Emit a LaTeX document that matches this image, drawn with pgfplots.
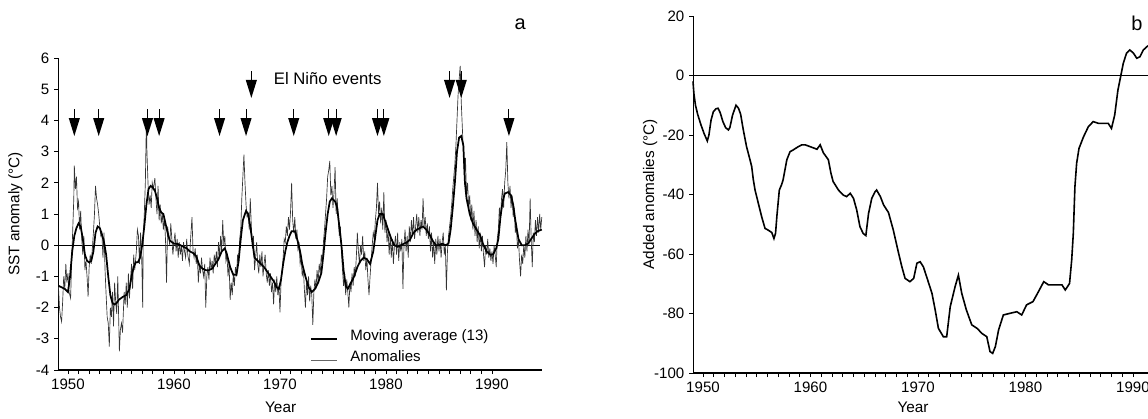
\documentclass[border=0pt]{standalone}
\usepackage{pgfplots}
\pgfplotsset{compat=1.18}
\usepackage{fontspec}
\setmainfont{Liberation Sans}

\pgfdeclareplotmark{elnino}{%
  \pgfpathmoveto{\pgfpoint{0pt}{0pt}}%
  \pgfpathlineto{\pgfpoint{-4.2pt}{13.5pt}}%
  \pgfpathlineto{\pgfpoint{4.2pt}{13.5pt}}%
  \pgfpathclose
  \pgfusepath{fill}%
  \pgfpathmoveto{\pgfpoint{0pt}{12pt}}%
  \pgfpathlineto{\pgfpoint{0pt}{20.5pt}}%
  \pgfusepath{stroke}%
}

\pgfplotsset{
  myaxis/.style={
    scale only axis, axis lines=left, axis line style={-},
    enlargelimits=false,
    y axis line style={line width=0.6pt},
    x axis line style={line width=1.1pt},
    tick align=outside, tick style={black, line width=0.5pt},
    major tick length=3pt, minor tick length=3pt,
    xtick={1950,1960,1970,1980,1990}, minor x tick num=9,
    /pgf/number format/1000 sep={},
    /pgf/number format/assume math mode=true,
    tick label style={font=\fontsize{11.3}{13}\selectfont},
    label style={font=\fontsize{11.5}{13}\selectfont},
    clip=false,
  }
}

\begin{document}
\begin{tikzpicture}
% ---------------- panel a ----------------
\begin{axis}[myaxis,
  at={(43.5pt,36pt)}, anchor=south west,
  width=363pt, height=234pt,
  xmin=1949.06, xmax=1994.72, ymin=-4, ymax=6,
  ytick={-4,-3,...,6},
  xlabel={Year},
  xlabel style={at={(axis description cs:0.46,-0.12)}, anchor=center},
  ylabel={SST anomaly (°C)},
  ylabel style={at={(axis description cs:-0.088,0.5)}, anchor=center},
  legend style={at={(axis description cs:0.52,0.14)}, anchor=north west,
    draw=none, fill=none, font=\fontsize{11.3}{13}\selectfont,
    row sep=2.5pt, inner sep=0pt, cells={anchor=west}},
  legend image code/.code={\draw[#1] (0pt,-2.5pt) -- (20pt,-2.5pt); \path (27pt,0pt);},
]
% zero line
\addplot[black, line width=0.6pt, forget plot] coordinates {(1949.06,0) (1994.5,0)};
% anomalies
\addplot[black!80, line width=0.5pt, forget plot] coordinates {
(1949.1,-1.3) (1949.2,-2.0) (1949.3,-2.3) (1949.4,-2.45) (1949.5,-1.8) (1949.6,-1.0) (1949.7,-1.4) (1949.8,-0.6) (1949.9,-1.2) (1950.0,-0.9)
(1950.1,-1.5) (1950.25,-1.7) (1950.35,-0.5) (1950.45,0.5) (1950.55,1.5) (1950.6,2.55) (1950.7,1.8) (1950.8,2.2) (1950.9,1.2) (1951.0,1.4)
(1951.1,0.5) (1951.2,1.1) (1951.3,0.2) (1951.4,-0.3) (1951.5,0.3) (1951.6,-0.8) (1951.7,-0.5) (1951.8,-1.0) (1951.9,-1.65) (1952.0,-0.7)
(1952.1,-0.3) (1952.2,-0.6) (1952.3,-0.1) (1952.4,0.4) (1952.5,1.0) (1952.6,1.9) (1952.7,1.5) (1952.8,1.3) (1952.9,1.0) (1953.0,0.6)
(1953.1,0.3) (1953.2,0.4) (1953.3,-0.4) (1953.4,0.4) (1953.5,-0.8) (1953.6,-1.6) (1953.7,-2.3) (1953.8,-2.5) (1953.9,-3.25) (1954.0,-2.0)
(1954.1,-2.3) (1954.2,-1.5) (1954.3,-2.6) (1954.4,-1.2) (1954.5,-1.8) (1954.6,-2.2) (1954.7,-1.0) (1954.85,-3.4) (1954.95,-2.7) (1955.05,-2.5)
(1955.15,-2.8) (1955.3,-1.5) (1955.4,-1.9) (1955.5,-1.2) (1955.6,-2.0) (1955.7,-0.9) (1955.8,-1.7) (1955.9,-1.1) (1956.0,-0.6) (1956.1,-1.4)
(1956.2,-0.3) (1956.3,-0.8) (1956.45,-0.2) (1956.55,0.5) (1956.65,0.3) (1956.75,-0.6) (1956.85,0.4) (1956.95,-0.3) (1957.05,-2.0) (1957.1,0.2)
(1957.2,1.0) (1957.3,2.0) (1957.4,4.05) (1957.45,3.0) (1957.55,2.0) (1957.65,1.3) (1957.75,1.6) (1957.85,1.2) (1957.95,2.0) (1958.05,1.8)
(1958.2,2.15) (1958.3,1.5) (1958.4,1.0) (1958.5,1.9) (1958.6,0.8) (1958.7,1.3) (1958.8,0.7) (1958.9,1.0) (1959.0,0.5) (1959.1,0.9)
(1959.2,0.2) (1959.3,-1.2) (1959.4,0.6) (1959.5,0.3) (1959.6,0.0) (1959.7,0.7) (1959.8,0.2) (1959.9,-0.3) (1960.0,0.1) (1960.1,0.4)
(1960.2,-0.2) (1960.3,0.2) (1960.4,-0.4) (1960.5,0.1) (1960.6,-0.3) (1960.7,0.0) (1960.8,-0.5) (1960.9,0.1) (1961.0,-0.2) (1961.1,-0.4)
(1961.2,0.2) (1961.3,-0.3) (1961.45,-0.6) (1961.55,0.1) (1961.7,0.9) (1961.8,-0.2) (1961.9,-0.4) (1962.0,-0.1) (1962.1,-0.6) (1962.2,-0.3)
(1962.3,-1.2) (1962.4,-0.6) (1962.5,-0.9) (1962.6,-0.4) (1962.7,-0.8) (1962.8,-1.0) (1962.9,-0.6) (1963.0,-2.0) (1963.1,-1.0) (1963.2,-0.7)
(1963.3,-1.1) (1963.4,-0.4) (1963.5,-0.8) (1963.6,-0.5) (1963.7,-0.9) (1963.8,-0.3) (1963.9,-0.6) (1964.0,-0.2) (1964.1,-0.7) (1964.2,0.1)
(1964.3,-0.4) (1964.4,0.3) (1964.5,-0.2) (1964.6,0.8) (1964.7,0.0) (1964.8,0.3) (1964.9,-0.5) (1965.0,-0.3) (1965.1,-1.0) (1965.2,-0.6)
(1965.3,-1.75) (1965.4,-1.2) (1965.5,-1.6) (1965.6,-0.9) (1965.7,-1.3) (1965.8,-0.7) (1965.9,-1.0) (1966.0,-0.3) (1966.1,-0.6) (1966.2,0.2)
(1966.3,0.5) (1966.4,1.5) (1966.5,2.2) (1966.6,2.9) (1966.7,2.0) (1966.8,1.3) (1966.9,0.9) (1967.0,1.0) (1967.1,0.5) (1967.2,1.5)
(1967.3,0.6) (1967.4,-0.1) (1967.5,0.3) (1967.6,-0.8) (1967.7,-0.4) (1967.8,0.1) (1967.9,-0.6) (1968.0,-0.9) (1968.1,-0.3) (1968.2,-0.7)
(1968.3,-0.2) (1968.4,-1.0) (1968.5,-0.6) (1968.6,-0.3) (1968.7,-0.9) (1968.8,-1.2) (1968.9,-0.8) (1969.0,-1.3) (1969.1,-0.9) (1969.2,-1.5)
(1969.3,-1.2) (1969.4,-1.9) (1969.5,-1.1) (1969.6,-1.5) (1969.7,-1.0) (1969.8,-1.6) (1969.9,-1.3) (1970.0,-2.15) (1970.1,-1.2) (1970.2,-0.8)
(1970.3,-0.4) (1970.4,0.2) (1970.5,0.1) (1970.6,0.6) (1970.7,0.3) (1970.8,0.9) (1970.9,0.5) (1971.0,1.1) (1971.1,2.0) (1971.2,0.8)
(1971.3,0.4) (1971.4,0.9) (1971.5,0.2) (1971.6,0.5) (1971.7,-0.2) (1971.8,0.1) (1971.9,-0.6) (1972.0,-0.4) (1972.1,-1.0) (1972.2,-0.7)
(1972.3,-1.4) (1972.4,-2.0) (1972.5,-1.2) (1972.6,-1.6) (1972.7,-1.0) (1972.8,-1.8) (1972.9,-1.3) (1973.0,-1.6) (1973.1,-2.55) (1973.2,-1.5)
(1973.3,-1.1) (1973.4,-1.4) (1973.5,-0.8) (1973.6,-1.2) (1973.7,-0.6) (1973.8,-0.9) (1973.9,-0.3) (1974.0,-0.6) (1974.1,0.1) (1974.2,0.5)
(1974.3,1.0) (1974.4,1.5) (1974.5,2.2) (1974.6,2.4) (1974.7,2.7) (1974.8,1.6) (1974.9,1.9) (1975.0,1.2) (1975.1,1.7) (1975.2,2.5)
(1975.3,1.0) (1975.4,1.5) (1975.5,0.8) (1975.6,0.3) (1975.7,0.6) (1975.8,-0.2) (1975.9,-0.8) (1976.0,-1.3) (1976.1,-0.9) (1976.2,-1.6)
(1976.3,-1.1) (1976.4,-1.5) (1976.5,-2.0) (1976.6,-1.2) (1976.7,-1.5) (1976.8,-0.9) (1976.9,-1.3) (1977.0,-0.7) (1977.1,-1.0) (1977.2,-0.4)
(1977.3,0.4) (1977.4,-0.2) (1977.5,-0.6) (1977.6,0.0) (1977.7,-0.3) (1977.8,0.3) (1977.9,-0.5) (1978.0,-0.2) (1978.1,-0.8) (1978.2,-0.4)
(1978.3,-1.1) (1978.4,-1.6) (1978.5,-1.0) (1978.6,-0.5) (1978.7,0.0) (1978.8,0.4) (1978.9,0.2) (1979.0,0.8) (1979.1,1.2) (1979.2,2.0)
(1979.3,1.0) (1979.4,1.4) (1979.5,0.7) (1979.6,1.2) (1979.7,0.5) (1979.8,1.7) (1979.9,0.4) (1980.0,0.8) (1980.1,0.1) (1980.2,0.5)
(1980.3,-0.3) (1980.4,0.3) (1980.5,-0.4) (1980.6,0.2) (1980.7,-0.6) (1980.8,0.0) (1980.9,0.3) (1981.0,-0.3) (1981.1,0.4) (1981.2,-0.5)
(1981.3,0.1) (1981.4,-0.2) (1981.5,0.2) (1981.6,-1.4) (1981.7,0.0) (1981.8,0.5) (1981.9,-0.2) (1982.0,0.3) (1982.1,-0.4) (1982.2,0.6)
(1982.3,0.1) (1982.4,0.8) (1982.5,0.3) (1982.6,0.9) (1982.7,0.2) (1982.8,0.6) (1982.9,1.0) (1983.0,0.4) (1983.1,0.9) (1983.2,0.3)
(1983.3,0.8) (1983.4,0.5) (1983.5,1.5) (1983.6,0.6) (1983.7,0.9) (1983.8,0.3) (1983.9,0.7) (1984.0,0.2) (1984.1,0.6) (1984.2,-0.2)
(1984.3,0.4) (1984.4,-0.4) (1984.5,0.1) (1984.6,-0.6) (1984.7,0.2) (1984.8,-0.3) (1984.9,0.3) (1985.0,-0.2) (1985.1,0.2) (1985.2,-0.4)
(1985.3,0.1) (1985.4,0.4) (1985.5,-0.3) (1985.6,0.0) (1985.7,-1.45) (1985.8,-0.2) (1985.9,0.3) (1986.0,0.6) (1986.1,0.9) (1986.2,1.3)
(1986.3,1.8) (1986.4,2.2) (1986.5,2.6) (1986.6,3.2) (1986.7,4.0) (1986.8,4.8) (1986.9,5.3) (1987.0,5.75) (1987.1,4.6) (1987.2,3.8)
(1987.3,3.0) (1987.4,2.2) (1987.5,2.8) (1987.6,1.6) (1987.7,2.0) (1987.8,1.2) (1987.9,1.6) (1988.0,0.8) (1988.1,1.3) (1988.2,0.5)
(1988.3,1.1) (1988.4,0.3) (1988.5,0.8) (1988.6,0.1) (1988.7,0.6) (1988.8,-0.1) (1988.9,0.4) (1989.0,-0.2) (1989.1,0.3) (1989.2,-0.3)
(1989.3,-0.7) (1989.4,0.0) (1989.5,-0.3) (1989.6,0.2) (1989.7,-0.4) (1989.8,-0.1) (1989.9,-0.5) (1990.0,-0.2) (1990.1,-0.6) (1990.2,0.0)
(1990.3,-0.3) (1990.4,-0.7) (1990.5,0.2) (1990.6,0.5) (1990.7,1.2) (1990.8,0.8) (1990.9,1.5) (1991.0,1.8) (1991.1,1.2) (1991.2,2.0)
(1991.3,2.4) (1991.4,3.3) (1991.5,2.0) (1991.6,1.5) (1991.7,1.9) (1991.8,1.2) (1991.9,1.6) (1992.0,0.9) (1992.1,1.2) (1992.2,0.4)
(1992.3,0.7) (1992.4,-0.1) (1992.5,0.2) (1992.6,-0.5) (1992.7,-1.0) (1992.8,-0.3) (1992.9,-0.6) (1993.0,0.0) (1993.1,-0.4) (1993.2,0.3)
(1993.3,-0.2) (1993.4,0.5) (1993.5,0.0) (1993.6,1.5) (1993.7,0.2) (1993.8,-0.7) (1993.9,0.4) (1994.0,0.1) (1994.1,0.8) (1994.2,0.3)
(1994.3,0.9) (1994.4,0.4) (1994.5,1.0) (1994.6,0.5) (1994.7,0.9)
};
% moving average (13)
\addplot[black, line width=1.3pt, forget plot] coordinates {
(1949.1,-1.3) (1949.4,-1.35) (1949.7,-1.4) (1950.0,-1.5) (1950.2,-1.0) (1950.4,-0.2) (1950.6,0.3) (1950.8,0.55) (1951.0,0.7) (1951.2,0.6)
(1951.4,0.2) (1951.6,-0.3) (1951.8,-0.5) (1952.0,-0.55) (1952.2,-0.5) (1952.4,-0.2) (1952.6,0.4) (1952.8,0.6) (1953.0,0.55) (1953.2,0.35)
(1953.4,0.1) (1953.6,-0.3) (1953.8,-1.0) (1954.0,-1.6) (1954.2,-1.85) (1954.4,-1.9) (1954.6,-1.85) (1954.8,-1.75) (1955.0,-1.7) (1955.2,-1.65)
(1955.5,-1.6) (1955.8,-1.4) (1956.0,-1.0) (1956.2,-0.7) (1956.4,-0.55) (1956.6,-0.55) (1956.8,-0.4) (1957.0,0.0) (1957.2,0.6) (1957.4,1.3)
(1957.6,1.8) (1957.8,1.9) (1958.0,1.85) (1958.2,1.75) (1958.4,1.5) (1958.6,1.2) (1958.8,1.05) (1959.0,1.0) (1959.2,0.7) (1959.4,0.4)
(1959.6,0.15) (1959.8,0.1) (1960.0,0.05) (1960.3,0.05) (1960.6,0.0) (1960.9,-0.05) (1961.2,-0.1) (1961.5,-0.2) (1961.8,-0.25) (1962.1,-0.35)
(1962.4,-0.65) (1962.7,-0.75) (1963.0,-0.8) (1963.3,-0.8) (1963.6,-0.75) (1963.9,-0.6) (1964.2,-0.45) (1964.5,-0.2) (1964.8,-0.1) (1965.0,-0.3)
(1965.3,-0.7) (1965.6,-0.95) (1965.9,-0.95) (1966.1,-0.5) (1966.3,0.2) (1966.5,0.8) (1966.8,1.1) (1967.0,1.0) (1967.2,0.6) (1967.4,0.1)
(1967.6,-0.4) (1967.9,-0.5) (1968.2,-0.6) (1968.5,-0.7) (1968.8,-0.85) (1969.1,-1.0) (1969.4,-1.15) (1969.7,-1.35) (1969.9,-1.4) (1970.1,-1.1)
(1970.3,-0.6) (1970.5,-0.2) (1970.7,0.1) (1970.9,0.3) (1971.1,0.45) (1971.4,0.45) (1971.7,0.1) (1971.9,-0.2) (1972.1,-0.6) (1972.4,-1.0)
(1972.7,-1.35) (1973.0,-1.5) (1973.3,-1.4) (1973.6,-1.2) (1973.9,-0.9) (1974.1,-0.3) (1974.3,0.4) (1974.5,1.0) (1974.7,1.4) (1974.9,1.5)
(1975.2,1.4) (1975.4,1.2) (1975.6,0.6) (1975.8,0.0) (1976.0,-0.8) (1976.2,-1.3) (1976.4,-1.4) (1976.7,-1.2) (1977.0,-1.0) (1977.3,-0.7)
(1977.6,-0.5) (1977.9,-0.4) (1978.2,-0.45) (1978.5,-0.6) (1978.8,-0.2) (1979.0,0.3) (1979.2,0.8) (1979.4,1.0) (1979.7,1.0) (1979.9,0.8)
(1980.2,0.5) (1980.5,0.2) (1980.8,0.0) (1981.1,-0.05) (1981.4,0.0) (1981.7,0.05) (1982.0,0.1) (1982.3,0.2) (1982.6,0.4) (1982.9,0.5)
(1983.2,0.55) (1983.5,0.6) (1983.8,0.5) (1984.1,0.35) (1984.4,0.15) (1984.7,0.0) (1985.0,0.0) (1985.3,0.05) (1985.6,0.0) (1985.9,0.05)
(1986.1,0.5) (1986.3,1.2) (1986.5,2.0) (1986.7,3.0) (1986.9,3.45) (1987.1,3.5) (1987.3,3.2) (1987.45,2.0) (1987.6,1.5) (1987.9,1.0)
(1988.2,0.7) (1988.55,0.5) (1988.9,0.3) (1989.2,0.0) (1989.5,-0.2) (1989.8,-0.3) (1990.1,-0.3) (1990.4,-0.1) (1990.6,0.2) (1990.8,0.9)
(1991.0,1.4) (1991.2,1.65) (1991.5,1.7) (1991.8,1.6) (1992.0,1.3) (1992.2,0.8) (1992.5,0.2) (1992.8,0.0) (1993.1,0.0) (1993.4,0.05)
(1993.7,0.2) (1994.0,0.35) (1994.3,0.45) (1994.7,0.5)
};
% El Nino events (arrow tips)
\addplot[black, only marks, mark=elnino, line width=0.8pt, forget plot] coordinates {
(1950.6,3.5) (1952.9,3.5) (1957.5,3.5) (1958.6,3.5) (1964.3,3.5) (1966.8,3.5)
(1971.3,3.5) (1974.6,3.5) (1975.3,3.5) (1979.2,3.5) (1979.8,3.5) (1991.6,3.5)
(1967.3,4.72) (1986.0,4.72) (1987.1,4.72)
};
\addlegendimage{black, line width=1.3pt}
\addlegendentry{Moving average (13)}
\addlegendimage{black!60, line width=0.5pt}
\addlegendentry{Anomalies}
\node[font=\fontsize{12.5}{14}\selectfont, anchor=center] at (axis cs:1974.5,5.35) {El Niño events};
\node[font=\fontsize{15}{17}\selectfont, anchor=base] at (rel axis cs:0.955,1.09) {a};
\end{axis}

% ---------------- panel b ----------------
\begin{axis}[myaxis,
  at={(519.75pt,33.75pt)}, anchor=south west,
  width=341.25pt, height=267.75pt,
  xmin=1949.07, xmax=1991.4, ymin=-100, ymax=20,
  ytick={-100,-80,...,20},
  xlabel={Year},
  xlabel style={at={(axis description cs:0.4835,-0.095)}, anchor=center},
  ylabel={Added anomalies (°C)},
  ylabel style={at={(axis description cs:-0.094,0.5)}, anchor=center},
]
\addplot[black, line width=1.1pt] coordinates {(1949.07,0) (1991.4,0)};
\addplot[black, line width=1.2pt] coordinates {
(1949.07,-2) (1949.15,-6) (1949.3,-10) (1949.5,-13) (1949.8,-16.5) (1950.1,-19.5) (1950.4,-22) (1950.55,-20) (1950.75,-15) (1950.96,-12.2)
(1951.2,-11.2) (1951.4,-11) (1951.6,-12.5) (1951.85,-15.5) (1952.1,-17.5) (1952.36,-18.3) (1952.5,-17.5) (1952.75,-13.3) (1953.07,-10) (1953.3,-11)
(1953.5,-13) (1953.75,-18.3) (1954.05,-23.9) (1954.37,-28.3) (1954.53,-30.6) (1954.68,-35) (1954.84,-38.5) (1955.15,-43) (1955.46,-47.5) (1955.77,-51.4)
(1956.08,-52) (1956.4,-52.8) (1956.6,-54.8) (1956.75,-53) (1956.88,-47) (1957.1,-38.5) (1957.3,-36.8) (1957.45,-35.1) (1957.8,-28.3) (1958.1,-25.6)
(1958.4,-25) (1958.87,-23.9) (1959.2,-23.3) (1959.5,-23.3) (1959.95,-23.9) (1960.4,-24.5) (1960.6,-24.8) (1960.9,-23.3) (1961.2,-26) (1961.66,-28.3)
(1961.9,-32.8) (1962.1,-35.6) (1962.6,-38.5) (1963.05,-40.2) (1963.36,-40.7) (1963.7,-39.6) (1964.0,-41.3) (1964.3,-45.2) (1964.6,-50.8) (1964.9,-53.1)
(1965.15,-53.8) (1965.4,-46.4) (1965.7,-41.3) (1966.0,-39.1) (1966.15,-38.5) (1966.5,-40.7) (1966.8,-43.5) (1967.1,-45.2) (1967.25,-46) (1967.7,-51.9)
(1968.2,-59.8) (1968.5,-64.3) (1968.8,-68.2) (1969.25,-69.3) (1969.6,-68.2) (1969.9,-63.1) (1970.2,-62.6) (1970.5,-64.3) (1970.8,-67.6) (1971.3,-73.2)
(1971.6,-78.8) (1971.9,-85) (1972.36,-87.8) (1972.67,-87.8) (1973.0,-77.7) (1973.45,-71) (1973.76,-67.1) (1974.07,-73.2) (1974.5,-78.8) (1975.0,-83.8)
(1975.5,-85) (1975.95,-86.7) (1976.4,-87.8) (1976.7,-92.8) (1976.95,-93.4) (1977.2,-91.1) (1977.5,-85.5) (1977.94,-80.5) (1978.6,-79.9) (1979.2,-79.4)
(1979.65,-80.5) (1980.1,-77.1) (1980.7,-76) (1981.2,-72.7) (1981.7,-69.3) (1982.15,-70.4) (1982.75,-70.4) (1983.4,-70.4) (1983.7,-72.1) (1984.1,-69.9)
(1984.3,-62) (1984.45,-53.1) (1984.6,-37.4) (1984.76,-29.5) (1984.98,-24.5) (1985.4,-20.6) (1985.85,-17.2) (1986.3,-15.5) (1986.8,-16.1) (1987.25,-16.1)
(1987.7,-16.1) (1988.0,-17.8) (1988.3,-13.3) (1988.6,-4.9) (1988.85,-0.4) (1989.1,4.1) (1989.4,7.5) (1989.7,8.6) (1990.05,7.5) (1990.35,5.8)
(1990.65,6.3) (1990.97,8.6) (1991.3,9.7) (1991.4,10)
};
\node[font=\fontsize{15}{17}\selectfont, anchor=base east] at (rel axis cs:0.998,0.958) {b};
\end{axis}
\pgfresetboundingbox
\useasboundingbox (0pt,0pt) rectangle (861pt,313.5pt);
\end{tikzpicture}
\end{document}
